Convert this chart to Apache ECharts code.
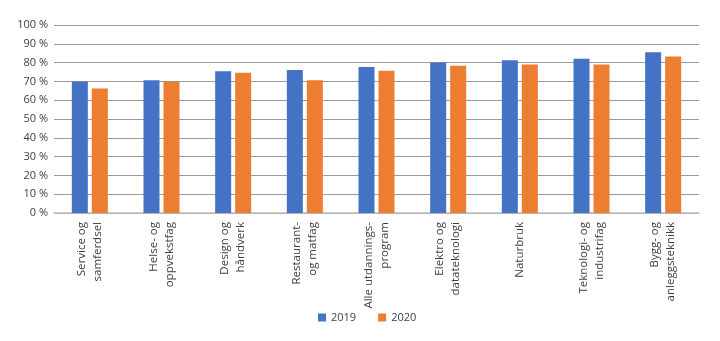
<!DOCTYPE html>
<html>
<head>
<meta charset="utf-8">
<script src="https://cdn.jsdelivr.net/npm/echarts@6/dist/echarts.min.js"></script>
<style>html,body{margin:0;padding:0;background:#fff}#c{width:720px;height:341px}</style>
</head>
<body>
<div id="c"></div>
<script>
const categories = ["Service og\nsamferdsel","Helse- og\noppvekstfag","Design og\nhåndverk","Restaurant-\nog matfag","Alle utdannings-\nprogram","Elektro og\ndatateknologi","Naturbruk","Teknologi- og\nindustrifag","Bygg- og\nanleggsteknikk"];
const seriesNames = ["2019","2020"];
const values2019 = [70, 70.6, 75.4, 76, 77.6, 80, 81.2, 82, 85.5];
const values2020 = [66.2, 70, 74.6, 70.6, 75.6, 78.3, 79, 79, 83.3];
const yTicks = [0,10,20,30,40,50,60,70,80,90,100];

const font = "'Open Sans', sans-serif";
const chart = echarts.init(document.getElementById('c'));
chart.setOption({
  animation: false,
  color: ['#4472C4', '#ED7D31'],
  textStyle: {fontFamily: font},
  grid: {left: 54, right: 21, top: 25, bottom: 128, containLabel: false},
  legend: {
    data: seriesNames, bottom: 13, left: 313,
    itemWidth: 8, itemHeight: 8, itemGap: 22, icon: 'rect',
    textStyle: {fontSize: 11, color: '#404040', fontFamily: font}
  },
  xAxis: {
    type: 'category', data: categories,
    axisLine: {show: true, lineStyle: {color: '#bfbfbf', width: 1.5}},
    axisTick: {show: false},
    axisLabel: {rotate: 90, interval: 0, fontSize: 11.5, color: '#404040', margin: 9, lineHeight: 16, fontFamily: font, align: 'right'}
  },
  yAxis: {
    type: 'value', min: yTicks[0], max: yTicks[yTicks.length-1], interval: 10,
    axisLine: {show: false}, axisTick: {show: false},
    splitLine: {lineStyle: {color: '#9a9a9a', width: 1}},
    axisLabel: {formatter: v => v + ' %', fontSize: 11, color: '#404040', margin: 6, fontFamily: font}
  },
  series: [
    {name: seriesNames[0], type: 'bar', data: values2019, barWidth: 16, barGap: '25%'},
    {name: seriesNames[1], type: 'bar', data: values2020, barWidth: 16, barGap: '25%'}
  ]
});
</script>
</body>
</html>
